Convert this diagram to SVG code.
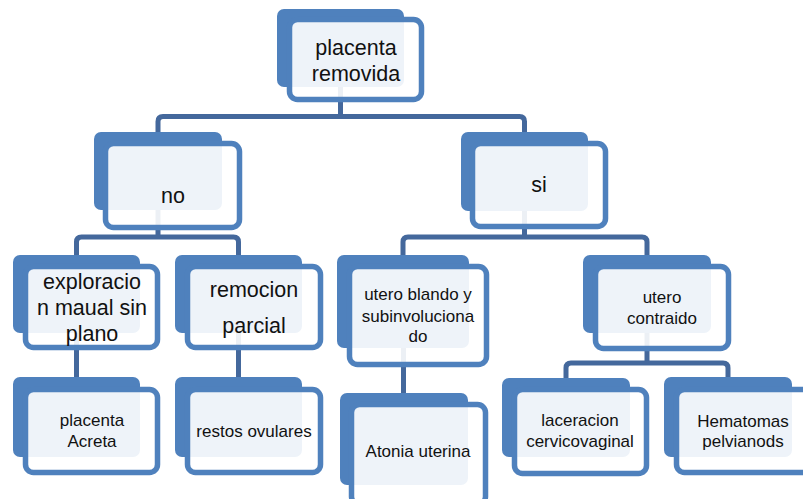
<svg xmlns="http://www.w3.org/2000/svg" width="803" height="499" viewBox="0 0 803 499">
<style>
.bk{fill:#4f81bd}
.fr{fill:#ffffff;fill-opacity:0.9;stroke:#4f81bd;stroke-width:5.5}
.cn{fill:none;stroke:#44689c;stroke-width:5}
.tl{font-family:"Liberation Sans",Arial,sans-serif;font-size:21.5px;fill:#111;text-anchor:middle}
.ts{font-family:"Liberation Sans",Arial,sans-serif;font-size:17px;fill:#111;text-anchor:middle}
</style>
<rect width="803" height="499" fill="#ffffff"/>
<g id="connectors">
<path class="cn" d="M340.5,87 V116.5 M158,132 V121.5 Q158,116.5 163,116.5 H519.5 Q524.5,116.5 524.5,121.5 V132"/>
<path class="cn" d="M158,210 V237 M76.5,255 V242 Q76.5,237 81.5,237 H233.5 Q238.5,237 238.5,242 V255"/>
<path class="cn" d="M524.5,211 V237 M403,255 V242 Q403,237 408,237 H642 Q647,237 647,242 V255"/>
<path class="cn" d="M76.5,333 V377 M238.5,333 V377 M403.5,348 V393"/>
<path class="cn" d="M647,333 V363 M566,378 V368 Q566,363 571,363 H723 Q728,363 728,368 V378"/>
</g>
<g id="n-placenta-removida">
<rect class="bk" x="277" y="9" width="127" height="78" rx="7"/>
<rect class="fr" x="289.5" y="19.5" width="132" height="80" rx="8"/>
<text class="tl" x="356" y="55">placenta</text>
<text class="tl" x="356" y="81">removida</text>
</g>
<g id="n-no">
<rect class="bk" x="94" y="132" width="128" height="78" rx="7"/>
<rect class="fr" x="105.5" y="143.5" width="134" height="84" rx="8"/>
<text class="tl" x="173" y="203">no</text>
</g>
<g id="n-si">
<rect class="bk" x="461" y="132" width="127" height="79" rx="7"/>
<rect class="fr" x="472.5" y="143.5" width="133" height="83" rx="8"/>
<text class="tl" x="539" y="192">si</text>
</g>
<g id="n-exploracion">
<rect class="bk" x="13" y="255" width="127" height="78" rx="7"/>
<rect class="fr" x="25.5" y="266.5" width="132" height="81" rx="8"/>
<text class="tl" x="92" y="289">exploracio</text>
<text class="tl" x="92" y="315">n maual sin</text>
<text class="tl" x="92" y="341">plano</text>
</g>
<g id="n-remocion">
<rect class="bk" x="175" y="255" width="127" height="78" rx="7"/>
<rect class="fr" x="187.5" y="266.5" width="133" height="81" rx="8"/>
<text class="tl" x="254" y="297">remocion</text>
<text class="tl" x="254" y="333">parcial</text>
</g>
<g id="n-utero-blando">
<rect class="bk" x="337" y="255" width="132" height="93" rx="7"/>
<rect class="fr" x="349.5" y="266.5" width="137" height="98" rx="8"/>
<text class="ts" x="418" y="300">utero blando y</text>
<text class="ts" x="418" y="322">subinvoluciona</text>
<text class="ts" x="418" y="342">do</text>
</g>
<g id="n-utero-contraido">
<rect class="bk" x="583" y="255" width="128" height="78" rx="7"/>
<rect class="fr" x="595.5" y="266.5" width="133" height="82" rx="8"/>
<text class="ts" x="662" y="303">utero</text>
<text class="ts" x="662" y="324">contraido</text>
</g>
<g id="n-placenta-acreta">
<rect class="bk" x="13" y="377" width="127" height="80" rx="7"/>
<rect class="fr" x="25.5" y="389.5" width="132" height="83" rx="8"/>
<text class="ts" x="92" y="426">placenta</text>
<text class="ts" x="92" y="447">Acreta</text>
</g>
<g id="n-restos">
<rect class="bk" x="175" y="377" width="127" height="80" rx="7"/>
<rect class="fr" x="187.5" y="389.5" width="133" height="83" rx="8"/>
<text class="ts" x="254" y="437">restos ovulares</text>
</g>
<g id="n-atonia">
<rect class="bk" x="340" y="393" width="128" height="92" rx="7"/>
<rect class="fr" x="351.5" y="404.5" width="134" height="100" rx="8"/>
<text class="ts" x="418" y="457">Atonia uterina</text>
</g>
<g id="n-laceracion">
<rect class="bk" x="502" y="378" width="128" height="79" rx="7"/>
<rect class="fr" x="514.5" y="389.5" width="132" height="84" rx="8"/>
<text class="ts" x="580" y="426">laceracion</text>
<text class="ts" x="580" y="447">cervicovaginal</text>
</g>
<g id="n-hematomas">
<rect class="bk" x="664" y="377" width="128" height="80" rx="7"/>
<rect class="fr" x="676.5" y="389.5" width="134" height="83" rx="8"/>
<text class="ts" x="743" y="427">Hematomas</text>
<text class="ts" x="743" y="447">pelvianods</text>
</g>
</svg>
